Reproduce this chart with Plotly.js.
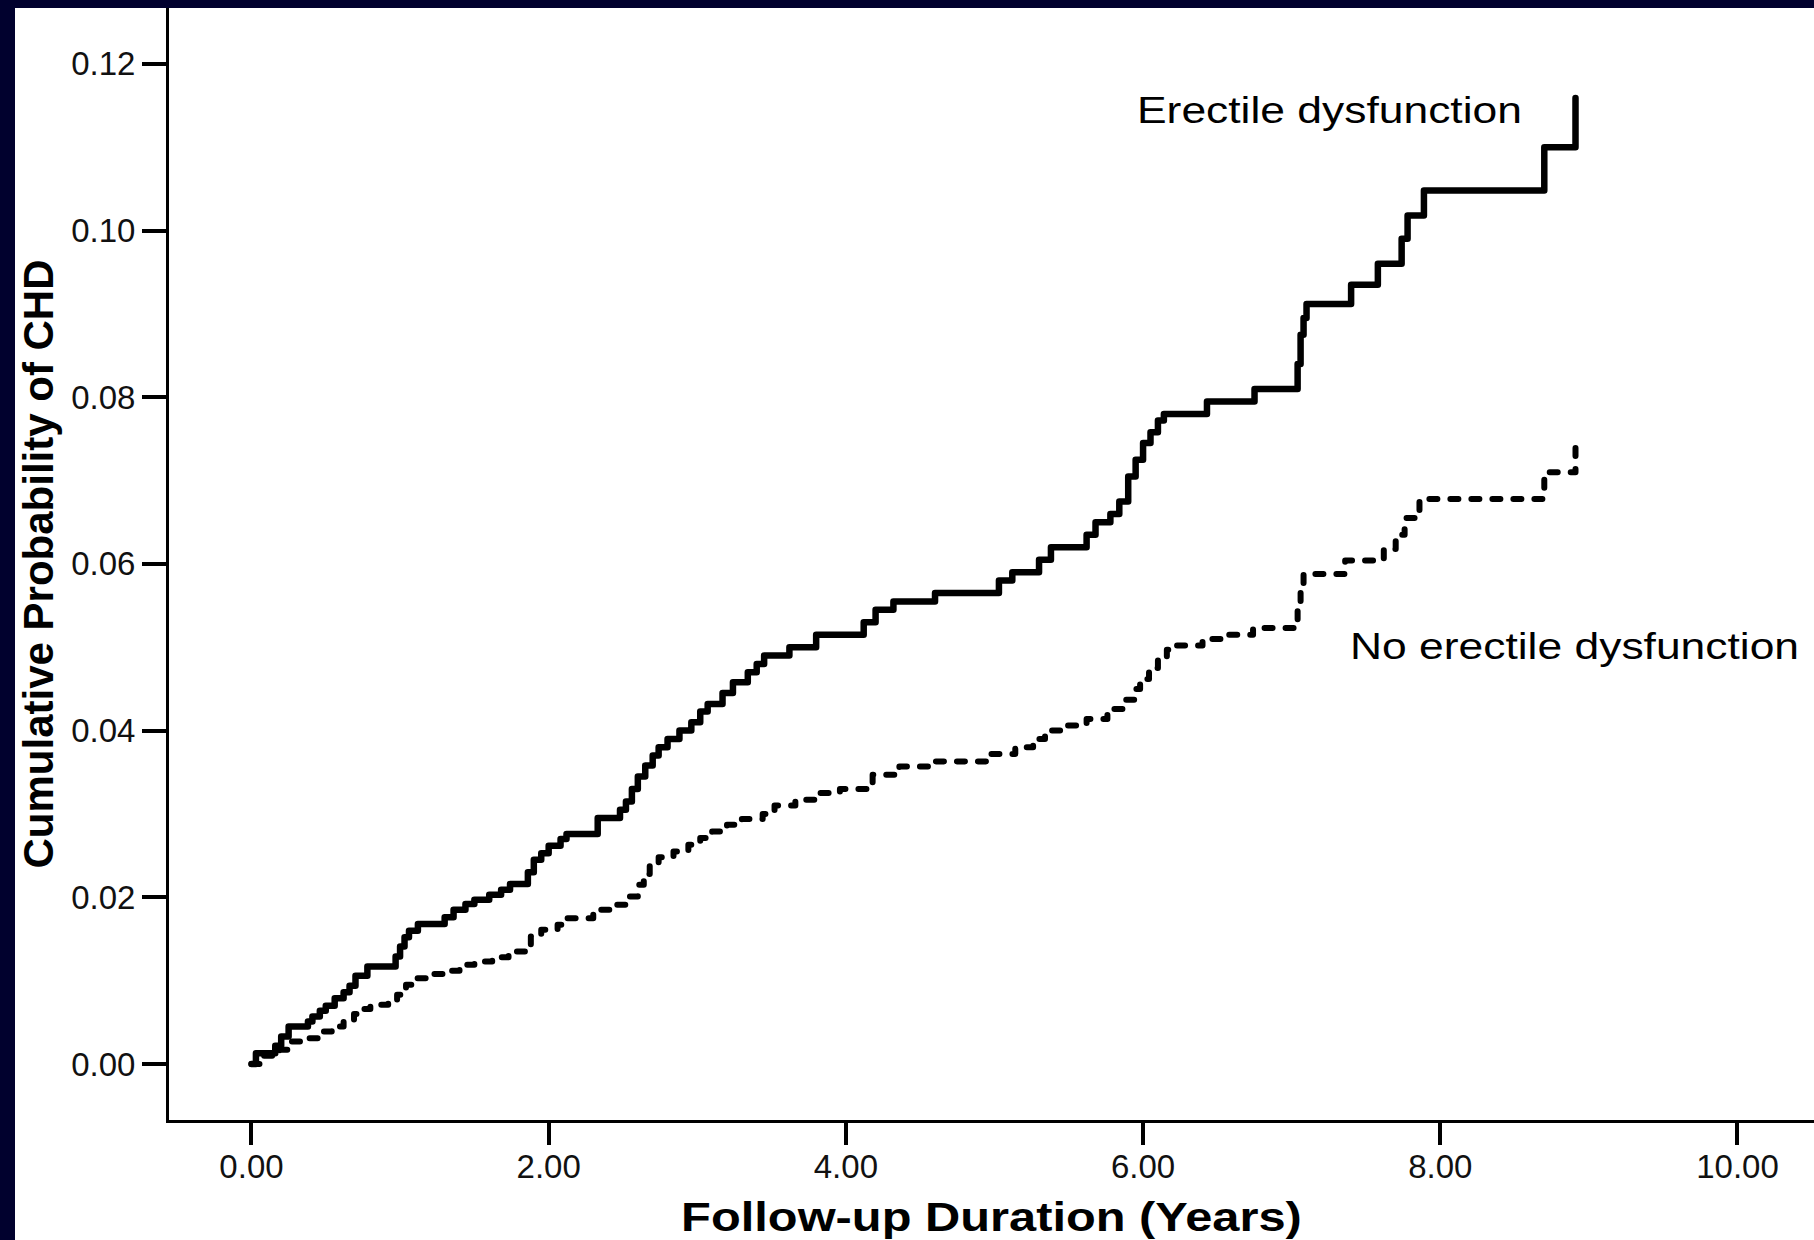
<!DOCTYPE html>
<html><head><meta charset="utf-8">
<script src="https://cdn.plot.ly/plotly-3.0.1.min.js"></script>
<style>
html,body{margin:0;padding:0;background:#01012e;width:1814px;height:1240px;overflow:hidden;}
#chart{position:absolute;left:15px;top:8px;width:1799px;height:1232px;background:#fff;}
.xtitle{transform-box:fill-box;transform-origin:50% 50%;transform:scaleX(1.22);}
.annotation-text{transform-box:fill-box;transform-origin:0% 50%;transform:scaleX(1.2);}
.scatterlayer .js-line{stroke-linecap:round;stroke-linejoin:round;}
</style></head><body><div id="chart"></div>
<script>
// Cumulative probability of CHD, erectile dysfunction group (step times, years)
const edTime = [0, 0.03, 0.16, 0.20, 0.25, 0.38, 0.41, 0.46, 0.50, 0.56, 0.62, 0.66, 0.70, 0.78, 0.97, 1.00, 1.03, 1.06, 1.12, 1.30, 1.36, 1.44, 1.50, 1.60, 1.68, 1.74, 1.86, 1.90, 1.95, 2.00, 2.08, 2.12, 2.33, 2.48, 2.52, 2.56, 2.60, 2.65, 2.70, 2.74, 2.80, 2.88, 2.96, 3.02, 3.07, 3.17, 3.24, 3.34, 3.40, 3.45, 3.62, 3.80, 4.12, 4.20, 4.32, 4.60, 5.03, 5.12, 5.30, 5.38, 5.62, 5.68, 5.78, 5.84, 5.90, 5.95, 6.00, 6.05, 6.10, 6.14, 6.43, 6.75, 7.04, 7.06, 7.08, 7.10, 7.40, 7.58, 7.74, 7.78, 7.89, 8.70, 8.91];
const edProb = [0, 0.0013, 0.0022, 0.0033, 0.0045, 0.0051, 0.0057, 0.0064, 0.0070, 0.0079, 0.0086, 0.0094, 0.0106, 0.0117, 0.0129, 0.0141, 0.0152, 0.0160, 0.0168, 0.0176, 0.0185, 0.0192, 0.0197, 0.0203, 0.0209, 0.0216, 0.0230, 0.0245, 0.0253, 0.0262, 0.0270, 0.0276, 0.0295, 0.0305, 0.0315, 0.0330, 0.0345, 0.0358, 0.0370, 0.0380, 0.0390, 0.0400, 0.0410, 0.0423, 0.0432, 0.0445, 0.0458, 0.0470, 0.0480, 0.0490, 0.0500, 0.0515, 0.0530, 0.0545, 0.0555, 0.0565, 0.0580, 0.0590, 0.0605, 0.0620, 0.0635, 0.0650, 0.0660, 0.0675, 0.0705, 0.0725, 0.0745, 0.0758, 0.0772, 0.0780, 0.0795, 0.0810, 0.0840, 0.0875, 0.0895, 0.0912, 0.0935, 0.0960, 0.0990, 0.1018, 0.1048, 0.1100, 0.1159];

// No erectile dysfunction group
const noEdTime = [0, 0.06, 0.19, 0.26, 0.38, 0.45, 0.54, 0.62, 0.69, 0.72, 0.80, 0.92, 0.98, 1.04, 1.10, 1.20, 1.33, 1.40, 1.50, 1.62, 1.73, 1.84, 1.88, 1.95, 2.06, 2.12, 2.30, 2.42, 2.54, 2.60, 2.64, 2.68, 2.74, 2.84, 2.94, 3.02, 3.10, 3.20, 3.30, 3.44, 3.52, 3.66, 3.82, 3.96, 4.18, 4.36, 4.60, 4.98, 5.14, 5.26, 5.34, 5.46, 5.62, 5.76, 5.88, 5.94, 5.98, 6.04, 6.10, 6.16, 6.22, 6.40, 6.55, 6.74, 7.04, 7.06, 7.08, 7.36, 7.62, 7.70, 7.76, 7.86, 8.70, 8.91];
const noEdProb = [0, 0.0010, 0.0017, 0.0027, 0.0031, 0.0039, 0.0045, 0.0053, 0.0060, 0.0066, 0.0071, 0.0075, 0.0083, 0.0095, 0.0103, 0.0108, 0.0112, 0.0119, 0.0123, 0.0128, 0.0135, 0.0140, 0.0153, 0.0161, 0.0167, 0.0175, 0.0185, 0.0191, 0.0201, 0.0215, 0.0228, 0.0240, 0.0248, 0.0255, 0.0263, 0.0271, 0.0279, 0.0287, 0.0294, 0.0300, 0.0310, 0.0317, 0.0325, 0.0330, 0.0347, 0.0357, 0.0363, 0.0372, 0.0380, 0.0390, 0.0400, 0.0406, 0.0414, 0.0426, 0.0437, 0.0450, 0.0462, 0.0475, 0.0488, 0.0497, 0.0502, 0.0510, 0.0515, 0.0523, 0.0545, 0.0565, 0.0588, 0.0604, 0.0618, 0.0635, 0.0655, 0.0678, 0.0710, 0.0752];

const xTickVals = [0, 2, 4, 6, 8, 10];
const yTickVals = [0, 0.02, 0.04, 0.06, 0.08, 0.10, 0.12];
const seriesNames = ['Erectile dysfunction', 'No erectile dysfunction'];
const xTitle = 'Follow-up Duration (Years)';
const yTitle = 'Cumulative Probability of CHD';

const FONT = 'Liberation Sans, Arial, Helvetica, sans-serif';

const traces = [
  {x: edTime, y: edProb, name: seriesNames[0], type: 'scatter', mode: 'lines',
   line: {shape: 'hv', color: '#000', width: 6.5}},
  {x: noEdTime, y: noEdProb, name: seriesNames[1], type: 'scatter', mode: 'lines',
   line: {shape: 'hv', color: '#000', width: 6, dash: '8px,13px'}}
];

const layout = {
  width: 1799, height: 1232,
  margin: {l: 154, r: 0, t: 0, b: 120},
  paper_bgcolor: '#ffffff', plot_bgcolor: '#ffffff',
  showlegend: false,
  font: {family: FONT, color: '#000'},
  xaxis: {
    range: [-0.555, 10.515], tickvals: xTickVals, tickformat: '.2f',
    showgrid: false, zeroline: false, showline: true, linecolor: '#000', linewidth: 3,
    ticks: 'outside', ticklen: 22, tickwidth: 4, tickcolor: '#000',
    ticklabelstandoff: -7,
    tickfont: {family: FONT, size: 33, color: '#111'},
    title: {text: xTitle, font: {family: FONT, size: 40, color: '#000', weight: 'bold'}, standoff: 20}
  },
  yaxis: {
    range: [-0.00672, 0.1267], tickvals: yTickVals, tickformat: '.2f',
    showgrid: false, zeroline: false, showline: true, linecolor: '#000', linewidth: 3,
    ticks: 'outside', ticklen: 24, tickwidth: 4, tickcolor: '#000',
    tickfont: {family: FONT, size: 33, color: '#111'},
    title: {text: yTitle, font: {family: FONT, size: 42, color: '#000', weight: 'bold'}, standoff: 10}
  },
  annotations: [
    {x: 5.946, y: 0.1144, xref: 'x', yref: 'y', text: seriesNames[0], showarrow: false,
     xanchor: 'left', yanchor: 'middle', font: {family: FONT, size: 37, color: '#000'}},
    {x: 7.38, y: 0.0500, xref: 'x', yref: 'y', text: seriesNames[1], showarrow: false,
     xanchor: 'left', yanchor: 'middle', font: {family: FONT, size: 37, color: '#000'}}
  ]
};

Plotly.newPlot('chart', traces, layout, {displayModeBar: false, staticPlot: true});
</script>
</body></html>
